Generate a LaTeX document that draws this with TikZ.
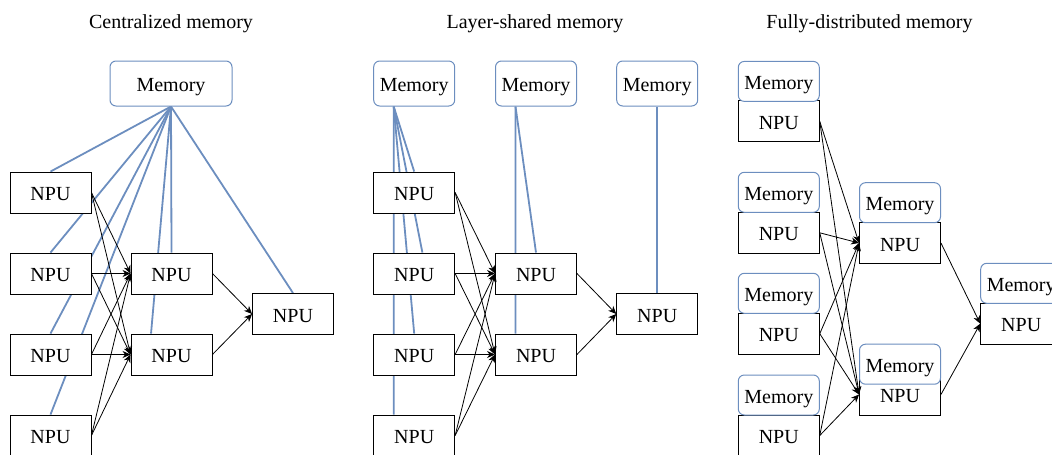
\documentclass[tikz,border=0pt]{standalone}
\usepackage{fontspec}
\setmainfont{Liberation Serif}
\usetikzlibrary{arrows.meta,calc,backgrounds}
\definecolor{memblue}{HTML}{6C8EBF}
\tikzset{
  npu/.style={draw=black, line width=0.9pt, fill=white, minimum width=81pt,
    minimum height=41pt, inner sep=0pt, text height=16pt, text depth=0pt},
  mem/.style={draw=memblue, line width=1pt, fill=white, rounded corners=6pt,
    minimum width=81pt, minimum height=45pt, inner sep=0pt, text height=16pt, text depth=0pt},
  dmem/.style={mem, minimum height=40pt},
  link/.style={draw=memblue, line width=1.8pt},
  flow/.style={draw=black, line width=0.8pt, -{Stealth[length=8pt,width=7pt,inset=2.5pt]}},
  ttl/.style={anchor=base, inner sep=0pt},
}
\begin{document}
\begin{tikzpicture}[x=1pt, y=-1pt, every node/.style={font=\fontsize{20}{24}\selectfont}]
\useasboundingbox (0,0) rectangle (1052,455);
\clip (0,0) rectangle (1052,455);

% titles
\node[ttl] (t1) at (171,28.3) {Centralized memory};
\node[ttl] (t2) at (535,28.3) {Layer-shared memory};
\node[ttl] (t3) at (869.5,28.3) {Fully-distributed memory};

% ---------- centralized memory ----------
\node[mem, minimum width=122pt] (cm) at (171,83.5) {Memory};
\node[npu] (cl1) at (50.5,192.5) {NPU};
\node[npu] (cl2) at (50.5,273.5) {NPU};
\node[npu] (cl3) at (50.5,354.5) {NPU};
\node[npu] (cl4) at (50.5,435.5) {NPU};
\node[npu] (cm1) at (171.5,273.5) {NPU};
\node[npu] (cm2) at (171.5,354.5) {NPU};
\node[npu] (cr) at (293,314) {NPU};

% ---------- layer-shared memory ----------
\node[mem] (sa) at (414.2,83.5) {Memory};
\node[mem] (sb) at (536,83.5) {Memory};
\node[mem] (sc) at (657.2,83.5) {Memory};
\node[npu] (sl1) at (414.2,192.5) {NPU};
\node[npu] (sl2) at (414.2,273.5) {NPU};
\node[npu] (sl3) at (414.2,354.5) {NPU};
\node[npu] (sl4) at (414.2,435.5) {NPU};
\node[npu] (sm1) at (536,273.5) {NPU};
\node[npu] (sm2) at (536,354.5) {NPU};
\node[npu] (sr) at (657.2,314) {NPU};

% ---------- fully-distributed memory ----------
\node[npu] (dl1) at (778.8,121.4) {NPU};
\node[npu] (dl2) at (778.8,232.8) {NPU};
\node[npu] (dl3) at (778.8,333.7) {NPU};
\node[npu] (dl4) at (778.8,435.5) {NPU};
\node[npu] (dm1) at (900,243) {NPU};
\node[npu] (dm2) at (900,394.5) {NPU};
\node[npu] (dr) at (1021.2,323.7) {NPU};
\node[dmem] (el1) at (778.8,81.4) {Memory};
\node[dmem] (el2) at (778.8,192.3) {Memory};
\node[dmem] (el3) at (778.8,293.3) {Memory};
\node[dmem] (el4) at (778.8,395) {Memory};
\node[dmem] (em1) at (900,202.7) {Memory};
\node[dmem] (em2) at (900,364.2) {Memory};
\node[dmem] (er) at (1021.2,283.3) {Memory};

% memory links, kept behind the boxes
\begin{pgfonlayer}{background}
  \foreach \t in {cl1,cl2,cl3,cl4,cm1,cr}{
    \draw[link] (cm.south) -- (\t.north);
  }
  \draw[link] (cm.south) -- ($(cm2.north west)!0.25!(cm2.north east)$);

  \coordinate (sa0) at ($(sa.south west)!0.25!(sa.south east)$);
  \draw[link] (sa0) -- (sl1.north);
  \draw[link] (sa0) -- ($(sl2.north west)!0.6!(sl2.north east)$);
  \draw[link] (sa0) -- (sl3.north);
  \draw[link] (sa0) -- ($(sl4.north west)!0.25!(sl4.north east)$);

  \coordinate (sb0) at ($(sb.south west)!0.25!(sb.south east)$);
  \draw[link] (sb0) -- (sm1.north);
  \draw[link] (sb0) -- ($(sm2.north west)!0.25!(sm2.north east)$);

  \draw[link] (sc.south) -- (sr.north);
\end{pgfonlayer}

% ---------- data flow ----------
\foreach \s in {cl1,cl2,cl3,cl4}{
  \draw[flow] (\s.east) -- (cm1.west);
  \draw[flow] (\s.east) -- (cm2.west);
}
\draw[flow] (cm1.east) -- (cr.west);
\draw[flow] (cm2.east) -- (cr.west);

\foreach \s in {sl1,sl2,sl3,sl4}{
  \draw[flow] (\s.east) -- (sm1.west);
  \draw[flow] (\s.east) -- (sm2.west);
}
\draw[flow] (sm1.east) -- (sr.west);
\draw[flow] (sm2.east) -- (sr.west);

\foreach \s in {dl1,dl2,dl3,dl4}{
  \draw[flow] (\s.east) -- (dm1.west);
  \draw[flow] (\s.east) -- (dm2.west);
}
\draw[flow] (dm1.east) -- (dr.west);
\draw[flow] (dm2.east) -- (dr.west);
\end{tikzpicture}
\end{document}
